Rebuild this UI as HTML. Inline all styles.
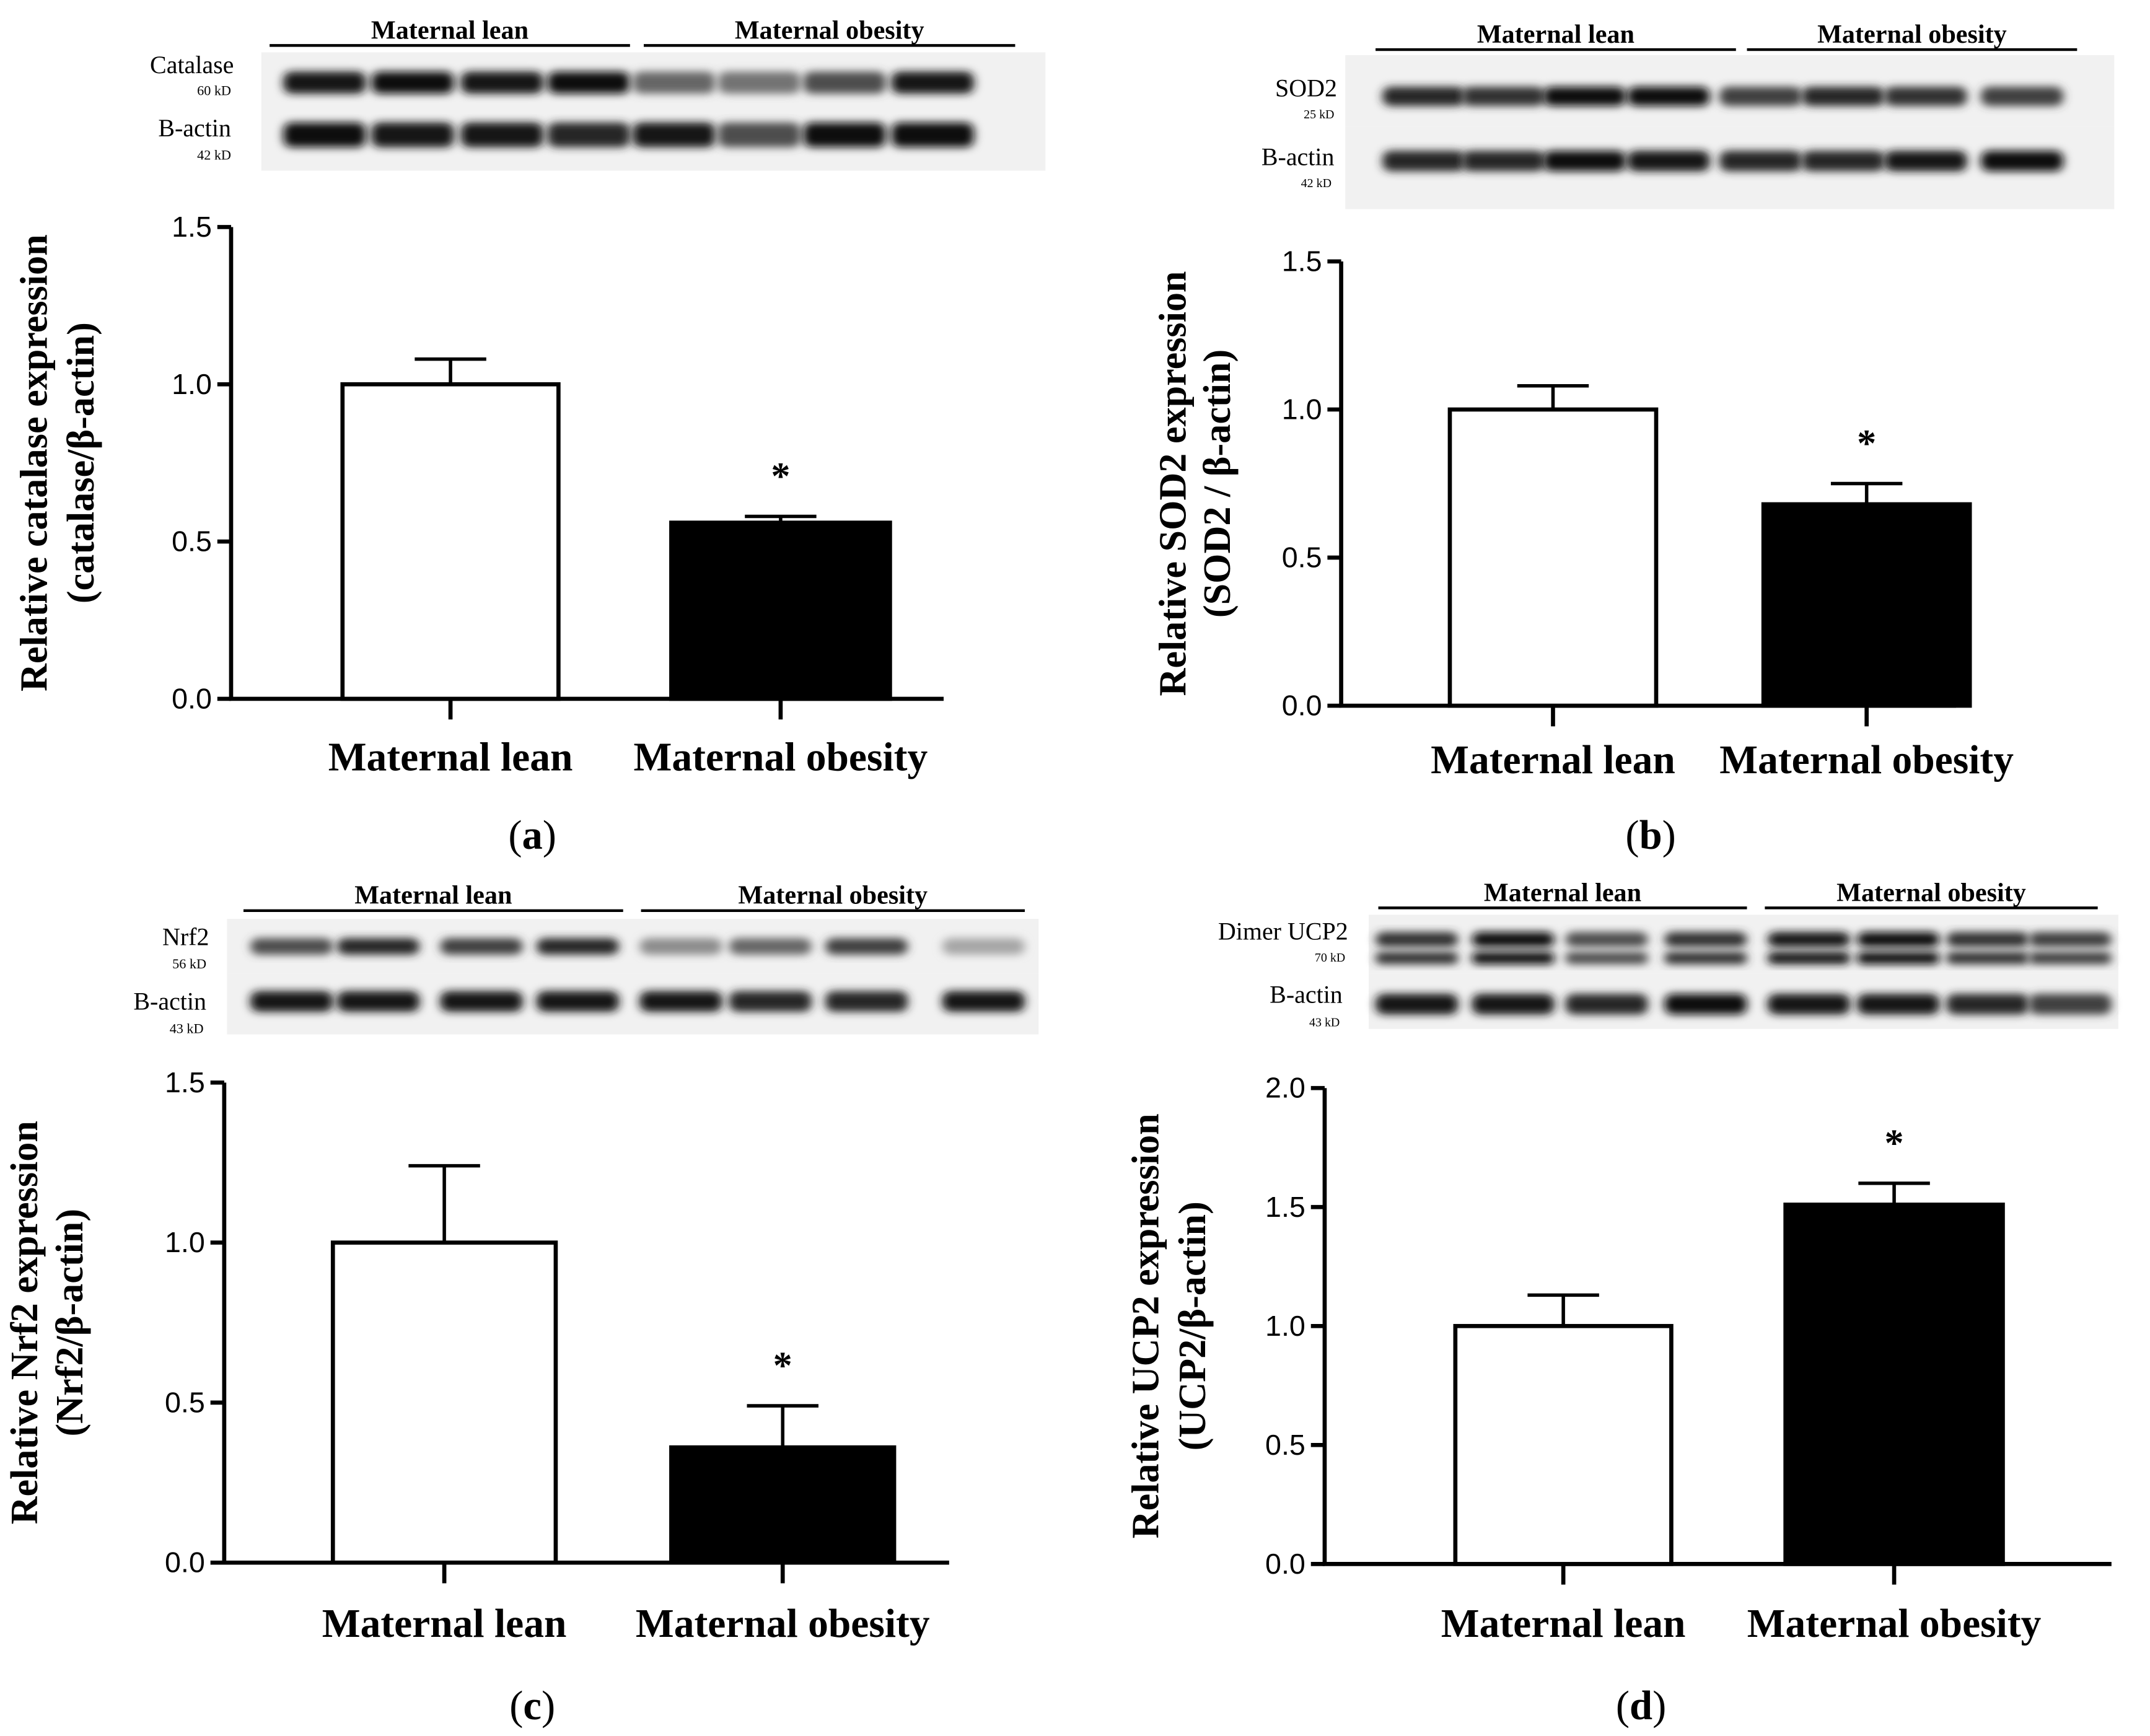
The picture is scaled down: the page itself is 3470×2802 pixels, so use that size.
<!DOCTYPE html>
<html><head><meta charset="utf-8"><style>
html,body{margin:0;padding:0;background:#fff}
svg{display:block}
text{font-family:"Liberation Serif",serif;fill:#000}
</style></head><body>
<svg id="fig" width="3470" height="2802" viewBox="0 0 1563 1262" xmlns="http://www.w3.org/2000/svg">
<defs><filter id="blur" x="-20%" y="-50%" width="140%" height="200%"><feGaussianBlur stdDeviation="3.5 3"/></filter></defs>
</svg>
<script>
const categories = ["Maternal lean", "Maternal obesity"];
const valuesA = [1.0, 0.56]; const errA = [0.08, 0.02];
const valuesB = [1.0, 0.68]; const errB = [0.08, 0.07];
const valuesC = [1.0, 0.36]; const errC = [0.24, 0.13];
const valuesD = [1.0, 1.51]; const errD = [0.13, 0.09];
const ticksA = ["0.0","0.5","1.0","1.5"];
const ticksD = ["0.0","0.5","1.0","1.5","2.0"];
const bandA1 = [0.9,0.95,0.9,0.95,0.6,0.55,0.7,0.9], bandA2 = [0.95,0.9,0.9,0.85,0.9,0.7,0.95,0.95];
const bandB1 = [0.85,0.8,0.95,0.95,0.75,0.85,0.8,0.75], bandB2 = [0.85,0.85,0.95,0.9,0.85,0.85,0.9,0.95];
const bandC1 = [0.7,0.85,0.75,0.85,0.45,0.6,0.75,0.35], bandC2 = [0.9,0.9,0.9,0.9,0.9,0.85,0.85,0.9];
const bandD1 = [0.8,0.95,0.7,0.8,0.9,0.95,0.8,0.75], bandD2 = [0.9,0.9,0.85,0.95,0.9,0.9,0.85,0.75];

const svg = document.getElementById('fig');
const NS = 'http://www.w3.org/2000/svg';
function mk(tag, attrs, parent, txt){const e=document.createElementNS(NS,tag);for(const k in attrs)e.setAttribute(k,attrs[k]);if(txt!==undefined)e.textContent=txt;(parent||svg).appendChild(e);return e;}

const panels = [
 {id:'a',vals:valuesA,err:errA,ticks:ticksA,max:1.5,ax:168,y0:508,ytop:165,xend:686,bars:[[249,406],[488,647]],labY:560,letter:[387,607],ytitle:["Relative catalase expression","(catalase/β-actin)"],ytx:[34,68],
  blot:{x:190,w:570,rows:[[38,82],[82,124]],bands:[[bandA1,60,16],[bandA2,98,18]],lanes:[236,300,365,428,490,552,614,678],hdr:[[196,458,'Maternal lean'],[468,738,'Maternal obesity']],hy:33,
  labs:[['Catalase',170,53,18],['60 kD',168,69,10],['B-actin',168,99,18],['42 kD',168,116,10]]}},
 {id:'b',vals:valuesB,err:errB,ticks:ticksA,max:1.5,ax:975,y0:513,ytop:190,xend:1422,bars:[[1054,1204],[1282,1432]],labY:562,letter:[1200,607],ytitle:["Relative SOD2 expression","(SOD2 / β-actin)"],ytx:[862,894],
  blot:{x:978,w:559,rows:[[40,92],[92,152]],bands:[[bandB1,70,14],[bandB2,117,15]],lanes:[1035,1093,1152,1213,1280,1340,1400,1470],hdr:[[1000,1262,'Maternal lean'],[1270,1510,'Maternal obesity']],hy:36,
  labs:[['SOD2',972,70,18],['25 kD',970,86,9],['B-actin',970,120,18],['42 kD',968,136,9]]}},
 {id:'c',vals:valuesC,err:errC,ticks:ticksA,max:1.5,ax:163,y0:1136,ytop:787,xend:690,bars:[[242,404],[488,650]],labY:1190,letter:[387,1240],ytitle:["Relative Nrf2 expression","(Nrf2/β-actin)"],ytx:[27,60],
  blot:{x:165,w:590,rows:[[668,708],[708,752]],bands:[[bandC1,688,12],[bandC2,728,15]],lanes:[212,275,350,420,495,560,630,715],hdr:[[177,453,'Maternal lean'],[466,745,'Maternal obesity']],hy:662,
  labs:[['Nrf2',152,687,18],['56 kD',150,704,10],['B-actin',150,734,18],['43 kD',148,751,10]]}},
 {id:'d',vals:valuesD,err:errD,ticks:ticksD,max:2.0,ax:963,y0:1137,ytop:791,xend:1535,bars:[[1058,1215],[1298,1456]],labY:1190,letter:[1193,1240],ytitle:["Relative UCP2 expression","(UCP2/β-actin)"],ytx:[842,876],
  blot:{x:995,w:545,rows:[[665,708],[708,748]],bands:[[bandD1,683,11],[bandD2,730,15]],lanes:[1030,1100,1168,1240,1315,1380,1445,1505],hdr:[[1002,1270,'Maternal lean'],[1283,1525,'Maternal obesity']],hy:660,double:true,
  labs:[['Dimer UCP2',980,683,18],['70 kD',978,699,9],['B-actin',976,729,18],['43 kD',974,746,9]]}}
];

panels.forEach(p=>{
  const g = mk('g',{});
  
  
  const y = v => p.y0 - v/p.max*(p.y0-p.ytop);
  const b = p.blot;
  const bg = mk('g',{},g);
  
  
  b.rows.forEach(r=>mk('rect',{x:b.x,y:r[0],width:b.w,height:r[1]-r[0],fill:'#f1f1f1'},bg));
  b.bands.forEach((band,bi)=>{
    band[0].forEach((inten,i)=>{
      const c=Math.round(255*(1-inten));
      const e=mk('rect',{x:b.lanes[i]-30,y:band[1]-band[2]/2,width:60,height:band[2],rx:6,fill:`rgb(${c},${c},${c})`,filter:'url(#blur)'},bg);
      
      
      if(b.double && bi===0){mk('rect',{x:b.lanes[i]-30,y:band[1]+9,width:60,height:9,rx:4,fill:`rgb(${c},${c},${c})`,filter:'url(#blur)'},bg);}
    });
  });
  b.hdr.forEach(h=>{
    mk('line',{x1:h[0],x2:h[1],y1:b.hy,y2:b.hy,stroke:'#000','stroke-width':2},bg);
    const t=mk('text',{x:(h[0]+h[1])/2,y:b.hy-5,'text-anchor':'middle','font-size':19,'font-weight':'bold'},bg,h[2]);
    
    
  });
  b.labs.forEach(l=>{const t=mk('text',{x:l[1],y:l[2],'text-anchor':'end','font-size':l[3]},bg,l[0]);
    
    });
  mk('line',{x1:p.ax,x2:p.ax,y1:p.ytop,y2:p.y0,stroke:'#000','stroke-width':3},g);
  mk('line',{x1:p.ax-1.5,x2:p.xend,y1:p.y0,y2:p.y0,stroke:'#000','stroke-width':3},g);
  p.ticks.forEach(tl=>{
    const yy=y(parseFloat(tl));
    mk('line',{x1:p.ax-10,x2:p.ax,y1:yy,y2:yy,stroke:'#000','stroke-width':3},g);
    const t=mk('text',{x:p.ax-14,y:yy+7,'text-anchor':'end','font-size':21},g,tl);
    t.style.fontFamily='"Liberation Sans",sans-serif';
    
    
  });
  categories.forEach((cat,i)=>{
    const [x1,x2]=p.bars[i]; const cx=(x1+x2)/2; const v=p.vals[i], e=p.err[i];
    mk('line',{x1:cx,x2:cx,y1:y(v),y2:y(v+e),stroke:'#000','stroke-width':2.5},g);
    mk('line',{x1:cx-26,x2:cx+26,y1:y(v+e),y2:y(v+e),stroke:'#000','stroke-width':2.5},g);
    const r=mk('rect',{x:x1,y:y(v),width:x2-x1,height:p.y0-y(v),fill:i?'#000':'#fff',stroke:'#000','stroke-width':3},g);
    
    
    mk('line',{x1:cx,x2:cx,y1:p.y0,y2:p.y0+15,stroke:'#000','stroke-width':3},g);
    const t=mk('text',{x:cx,y:p.labY,'text-anchor':'middle','font-size':29.5,'font-weight':'bold'},g,cat);
    
    
    if(i===1){const s=mk('text',{x:cx,y:y(v+e)-20,'text-anchor':'middle','font-size':28,'font-weight':'bold'},g,'*');
      
      }
  });
  const cy=(p.ytop+p.y0)/2;
  p.ytitle.forEach((tt,k)=>{
    const t=mk('text',{x:p.ytx[k],y:cy,'text-anchor':'middle','font-size':28,'font-weight':'bold',transform:`rotate(-90 ${p.ytx[k]} ${cy})`},g,tt);
    
    
  });
  const L=mk('text',{x:p.letter[0],y:p.letter[1]+10,'text-anchor':'middle','font-size':30},g);
  
  
  L.innerHTML='(<tspan font-weight="bold">'+p.id+'</tspan>)';
});
</script>
</body></html>
